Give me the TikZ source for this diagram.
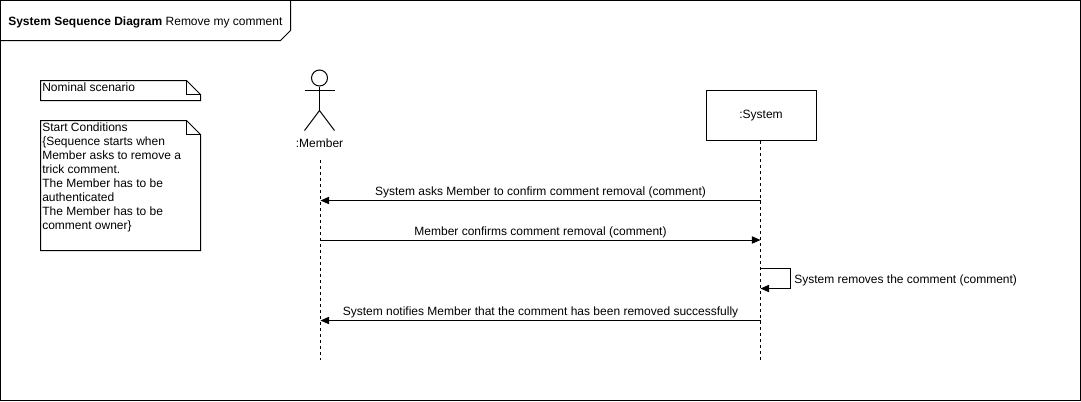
\documentclass[tikz,border=0pt]{standalone}
\usepackage{fontspec}
\setmainfont{Liberation Sans}
\usetikzlibrary{arrows.meta}
\tikzset{
  px/.style={x=0.75pt,y=-0.75pt},
  ln/.style={draw=black,line width=0.75pt,line join=miter},
  life/.style={draw=black,line width=0.75pt,dash pattern=on 2.25pt off 2.25pt},
  msg/.style={draw=black,line width=0.75pt,-{Triangle[length=6.5pt,width=5.5pt]}},
  txt/.style={font=\fontsize{9}{10.5}\selectfont,inner sep=0pt,text=black},
  notetxt/.style={txt,anchor=north west,align=left},
  lbl/.style={txt,anchor=base}
}
\newcommand{\notebox}[4]{% x1,y1,x2,y2
  \draw[ln,fill=white] (#1,#2) -- (#3-14,#2) -- (#3,#2+14) -- (#3,#4) -- (#1,#4) -- cycle;
  \draw[ln] (#3-14,#2) -- (#3-14,#2+14) -- (#3,#2+14);
}
\begin{document}
\begin{tikzpicture}[px]
\useasboundingbox (0,0) rectangle (1081,401);
\fill[white] (0,0) rectangle (1081,401);
% frame
\draw[ln] (0.5,0.5) rectangle (1080.5,400.5);
\draw[ln] (0.5,40.5) -- (280.5,40.5) -- (290.5,30.5) -- (290.5,0.5);
\node[txt,anchor=base west] (title) at (8,25) {\textbf{System Sequence Diagram} Remove my comment};
% notes
\notebox{40.5}{80.5}{200.5}{100.5}
\node[notetxt] (n1) at (42,82.5) {Nominal scenario};
\notebox{40.5}{120.5}{200.5}{250.5}
\node[notetxt] (n2) at (42,122.5) {Start Conditions\\\{Sequence starts when\\Member asks to remove a\\trick comment.\\The Member has to be\\authenticated\\The Member has to be\\comment owner\}};
% actor
\node[circle,ln,minimum size=12pt,inner sep=0pt] (head) at (319.5,78) {};
\coordinate (hip) at (319.5,110.5);
\coordinate (armL) at (304.5,90.5);
\coordinate (armR) at (334.5,90.5);
\coordinate (legL) at (304.5,130.5);
\coordinate (legR) at (334.5,130.5);
\draw[ln] (head.south) -- (hip);
\draw[ln] (armL) -- (armR);
\draw[ln] (legL) -- (hip) -- (legR);
\node[txt] (member) at (319.5,143.5) {:Member};
% system
\node[draw=black,line width=0.75pt,minimum width=82.5pt,minimum height=37.5pt,inner sep=0pt,anchor=center,font=\fontsize{9}{10.5}\selectfont] (system) at (761,115.5) {:System};
% lifelines
\coordinate (mtop) at (320.5,160);
\coordinate (mend) at (320.5,360);
\coordinate (send) at (760.5,360);
\draw[life] (mtop) -- (mend);
\draw[life] (system.south -| send) -- (send);
% message anchors
\coordinate (m1) at (320.5,200.5);
\coordinate (s1) at (760.5,200.5);
\coordinate (m2) at (320.5,240);
\coordinate (s2) at (760.5,240);
\coordinate (s3a) at (760.5,268.5);
\coordinate (s3b) at (790.5,268.5);
\coordinate (s3c) at (790.5,288.5);
\coordinate (s3d) at (760.5,288.5);
\coordinate (m4) at (320.5,320.5);
\coordinate (s4) at (760.5,320.5);
\draw[msg] (s1) -- (m1);
\draw[msg] (m2) -- (s2);
\draw[msg] (s3a) -- (s3b) -- (s3c) -- (s3d);
\draw[msg] (s4) -- (m4);
\node[lbl] (l1) at (540.5,195) {System asks Member to confirm comment removal (comment)};
\node[lbl] (l2) at (540.5,235) {Member confirms comment removal (comment)};
\node[txt,anchor=base west] (l3) at (794,283) {System removes the comment (comment)};
\node[lbl] (l4) at (540.5,315) {System notifies Member that the comment has been removed successfully};
\end{tikzpicture}
\end{document}
